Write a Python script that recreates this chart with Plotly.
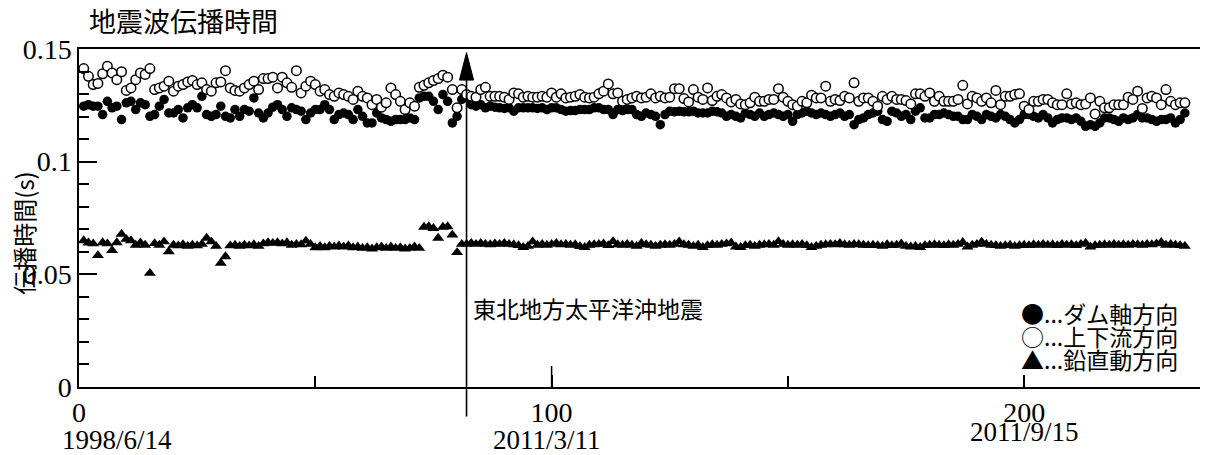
import plotly.graph_objects as go

# ---------------- data ----------------
sample_no = list(range(1, 235))

dam_axis = [  # ● ダム軸方向
    0.1246,0.1253,0.1246,0.1246,0.1209,0.1268,0.1239,0.1246,0.1187,0.1261,
    0.1268,0.1231,0.1261,0.1253,0.1201,0.1209,0.1246,0.1276,0.1216,0.1216,
    0.1231,0.1194,0.1239,0.1253,0.1239,0.1290,0.1209,0.1201,0.1209,0.1246,
    0.1201,0.1194,0.1231,0.1201,0.1231,0.1224,0.1283,0.1216,0.1194,
    0.1216,0.1242,0.1253,0.1231,0.1201,0.1239,0.1231,0.1224,0.1187,0.1216,
    0.1231,0.1231,0.1253,0.1231,0.1187,0.1209,0.1216,0.1209,0.1187,0.1231,
    0.1201,0.1172,0.1172,0.1216,0.1194,0.1187,0.1179,0.1187,0.1187,0.1187,
    0.1194,0.1187,0.1283,0.1290,0.1290,0.1268,0.1231,0.1298,
    0.1268,0.1172,0.1201,0.1276,0.1286,0.1253,0.1246,0.1253,0.1239,0.1246,
    0.1242,0.1239,0.1236,0.1239,0.1224,0.1239,0.1239,0.1239,0.1239,0.1236,
    0.1239,0.1231,0.1239,0.1239,0.1231,0.1224,0.1227,0.1227,0.1231,0.1231,
    0.1231,0.1239,0.1239,0.1231,0.1231,0.1209,0.1231,0.1227,0.1231,0.1231,
    0.1209,0.1201,0.1216,0.1209,0.1201,0.1164,0.1209,0.1224,0.1221,0.1224,
    0.1221,0.1221,0.1224,0.1216,0.1216,0.1216,0.1224,0.1221,0.1216,0.1201,
    0.1209,0.1201,0.1194,0.1216,0.1209,0.1201,0.1216,0.1201,0.1209,0.1216,
    0.1209,0.1201,0.1209,0.1179,0.1209,0.1216,0.1224,0.1216,0.1209,
    0.1216,0.1209,0.1201,0.1209,0.1216,0.1201,0.1209,0.1164,0.1187,0.1194,
    0.1209,0.1216,0.1224,0.1187,0.1179,0.1224,0.1216,0.1201,0.1209,0.1187,
    0.1224,0.1239,0.1194,0.1194,0.1209,0.1209,0.1216,0.1209,0.1201,0.1201,
    0.1187,0.1187,0.1209,0.1201,0.1187,0.1209,0.1201,0.1194,0.1209,0.1201,
    0.1187,0.1172,0.1187,0.1209,0.1209,0.1201,0.1194,0.1209,0.1194,0.1172,
    0.1187,0.1194,0.1194,0.1187,0.1194,0.1179,0.1157,0.1164,0.1157,0.1172,
    0.1194,0.1194,0.1187,0.1179,0.1194,0.1187,0.1194,0.1209,0.1194,0.1194,
    0.1187,0.1179,0.1187,0.1187,0.1194,0.1172,0.1187,0.1216,
]

up_down = [  # ○ 上下流方向
    0.1413,0.1379,0.1342,0.1347,0.1390,0.1424,0.1394,0.1364,0.1399,0.1316,
    0.1327,0.1364,0.1394,0.1387,0.1413,0.1320,0.1327,0.1335,0.1357,0.1313,
    0.1335,0.1342,0.1354,0.1360,0.1342,0.1350,0.1320,0.1313,0.1350,0.1354,
    0.1404,0.1327,0.1316,0.1313,0.1327,0.1342,0.1357,0.1320,0.1369,
    0.1369,0.1375,0.1327,0.1375,0.1350,0.1330,0.1404,0.1305,0.1335,0.1357,
    0.1342,0.1313,0.1320,0.1298,0.1290,0.1305,0.1298,0.1290,0.1276,0.1313,
    0.1290,0.1283,0.1253,0.1276,0.1242,0.1261,0.1327,0.1298,0.1268,0.1231,
    0.1261,0.1246,0.1330,0.1339,0.1350,0.1360,0.1369,0.1384,0.1375,
    0.1320,0.1239,0.1320,0.1298,0.1290,0.1286,0.1320,0.1330,0.1290,0.1290,
    0.1290,0.1286,0.1276,0.1305,0.1301,0.1286,0.1290,0.1286,0.1286,0.1290,
    0.1286,0.1305,0.1286,0.1301,0.1283,0.1286,0.1290,0.1298,0.1286,0.1283,
    0.1286,0.1301,0.1313,0.1345,0.1301,0.1305,0.1268,0.1276,0.1283,
    0.1290,0.1283,0.1286,0.1301,0.1283,0.1290,0.1283,0.1286,0.1324,0.1324,
    0.1280,0.1265,0.1320,0.1286,0.1276,0.1327,0.1271,0.1290,0.1298,0.1283,
    0.1265,0.1276,0.1256,0.1253,0.1261,0.1286,0.1268,0.1268,0.1276,0.1276,
    0.1324,0.1286,0.1268,0.1253,0.1246,0.1268,0.1261,0.1295,0.1283,
    0.1283,0.1335,0.1268,0.1276,0.1271,0.1290,0.1283,0.1350,0.1268,0.1283,
    0.1283,0.1268,0.1246,0.1290,0.1276,0.1290,0.1276,0.1276,0.1271,0.1256,
    0.1301,0.1301,0.1290,0.1305,0.1268,0.1290,0.1268,0.1268,0.1268,0.1276,
    0.1339,0.1256,0.1290,0.1283,0.1268,0.1283,0.1261,0.1316,0.1253,0.1290,
    0.1290,0.1298,0.1301,0.1246,0.1231,0.1268,0.1268,0.1276,0.1276,0.1261,
    0.1253,0.1253,0.1301,0.1256,0.1261,0.1253,0.1256,0.1283,0.1212,0.1268,
    0.1239,0.1239,0.1253,0.1253,0.1253,0.1286,0.1276,0.1313,0.1236,0.1283,
    0.1290,0.1283,0.1253,0.1320,0.1268,0.1253,0.1261,0.1261,
]

vertical = [  # ▲ 鉛直動方向
    0.0650,0.0640,0.0636,0.0584,0.0641,0.0636,0.0606,0.0641,0.0678,0.0656,
    0.0650,0.0630,0.0640,0.0630,0.0505,0.0637,0.0630,0.0645,0.0601,0.0630,
    0.0627,0.0632,0.0625,0.0630,0.0627,0.0634,0.0661,0.0645,0.0625,0.0550,
    0.0579,0.0627,0.0630,0.0625,0.0630,0.0627,0.0632,0.0625,0.0636,0.0641,
    0.0638,0.0641,0.0636,0.0641,0.0630,0.0634,0.0632,0.0648,0.0634,0.0619,
    0.0625,0.0619,0.0625,0.0622,0.0627,0.0622,0.0627,0.0619,0.0622,0.0616,
    0.0619,0.0613,0.0619,0.0622,0.0616,0.0622,0.0616,0.0619,0.0613,0.0616,
    0.0622,0.0616,0.0710,0.0712,0.0704,0.0661,0.0710,0.0712,0.0675,0.0597,
    0.0634,
    0.0634,0.0638,0.0634,0.0638,0.0634,0.0632,0.0636,0.0634,0.0638,0.0634,
    0.0632,0.0628,0.0620,0.0625,0.0645,0.0630,0.0634,0.0630,0.0634,0.0638,
    0.0632,0.0634,0.0630,0.0632,0.0624,0.0620,0.0630,0.0632,0.0634,0.0636,
    0.0628,0.0646,0.0632,0.0630,0.0634,0.0630,0.0625,0.0638,0.0632,0.0630,
    0.0625,0.0630,0.0632,0.0630,0.0634,0.0645,0.0632,0.0630,0.0625,0.0630,
    0.0620,0.0628,0.0632,0.0630,0.0634,0.0636,0.0640,0.0622,0.0620,0.0628,
    0.0630,0.0625,0.0630,0.0632,0.0634,0.0630,0.0646,0.0634,0.0630,0.0632,
    0.0630,0.0634,0.0628,0.0620,0.0625,0.0630,0.0632,0.0634,0.0632,0.0638,
    0.0632,0.0630,0.0634,0.0632,0.0630,0.0628,0.0630,0.0628,0.0625,0.0632,
    0.0628,0.0630,0.0636,0.0625,0.0622,0.0625,0.0620,0.0628,0.0630,0.0632,
    0.0630,0.0628,0.0632,0.0630,0.0634,0.0642,0.0622,0.0630,0.0634,0.0644,
    0.0634,0.0630,0.0628,0.0625,0.0628,0.0630,0.0625,0.0628,0.0630,0.0628,
    0.0632,0.0630,0.0634,0.0630,0.0632,0.0628,0.0634,0.0630,0.0632,0.0628,
    0.0634,0.0638,0.0622,0.0628,0.0630,0.0632,0.0630,0.0634,0.0630,0.0632,
    0.0630,0.0634,0.0632,0.0630,0.0634,0.0632,0.0636,0.0642,0.0630,0.0634,
    0.0630,0.0628,0.0625,
]

x_tick_vals = [0, 100, 200]
x_tick_text = ["0", "100", "200"]
y_tick_vals = [0, 0.05, 0.1, 0.15]
y_tick_text = ["0", "0.05", "0.1", "0.15"]

date_x = [8, 99, 200]
date_text = ["1998/6/14", "2011/3/11", "2011/9/15"]

quake_x = 82
quake_label = "東北地方太平洋沖地震"

title_text = "地震波伝播時間"
y_title = "伝播時間(s)"
legend_lines = ["●...ダム軸方向", "○...上下流方向", "▲...鉛直動方向"]

# ---------------- figure ----------------
SERIF = "Liberation Serif, Times New Roman, serif"
JP = "Noto Sans CJK JP, sans-serif"

fig = go.Figure()
fig.add_trace(go.Scatter(
    x=sample_no, y=dam_axis, mode="markers", name="ダム軸方向",
    marker=dict(symbol="circle", size=9.5, color="black"),
    cliponaxis=False))
fig.add_trace(go.Scatter(
    x=sample_no, y=up_down, mode="markers", name="上下流方向",
    marker=dict(symbol="circle", size=9.5, color="white",
                line=dict(color="black", width=1.5)),
    cliponaxis=False))
fig.add_trace(go.Scatter(
    x=sample_no, y=vertical, mode="markers", name="鉛直動方向",
    marker=dict(symbol="triangle-up", size=10.5, color="black"),
    cliponaxis=False))

# the page body has an 8px margin, so the figure is sized to fit the window
W, H = 1203, 447
ML, MR, MT, MB = 71, 11, 41, 68
XMAX = 237.2

fig.update_layout(
    width=W, height=H,
    margin=dict(l=ML, r=MR, t=MT, b=MB),
    paper_bgcolor="white", plot_bgcolor="white",
    showlegend=False,
    xaxis=dict(
        range=[0, XMAX], showgrid=False, zeroline=False,
        showline=True, linecolor="black", linewidth=1.5, mirror=True,
        ticks="inside", ticklen=12, tickwidth=1.5, tickcolor="black",
        tickvals=x_tick_vals, ticktext=x_tick_text,
        minor=dict(ticks="inside", tickvals=[50, 150], ticklen=11,
                   tickwidth=1.5, tickcolor="black"),
        tickfont=dict(family=SERIF, size=28, color="black"),
    ),
    yaxis=dict(
        range=[0, 0.15], showgrid=False, zeroline=False,
        showline=True, linecolor="black", linewidth=1.5,
        ticks="inside", ticklen=18, tickwidth=1.5, tickcolor="black",
        tickvals=y_tick_vals, ticktext=y_tick_text,
        minor=dict(ticks="inside", dtick=0.01, ticklen=10,
                   tickwidth=1.5, tickcolor="black"),
        tickfont=dict(family=SERIF, size=28, color="black"),
    ),
)

# the tick at 100 is drawn longer than the others in the original
fig.add_shape(type="line", xref="x", yref="paper", x0=100, x1=100,
              y0=0, y1=21 / 338, line=dict(color="black", width=1.5))

# earthquake marker line (extends below the axis) and label
fig.add_annotation(x=quake_x, y=0.138, xref="x", yref="y",
                   ax=quake_x, ay=-0.0138, axref="x", ayref="y",
                   text="", showarrow=True, arrowhead=0,
                   arrowwidth=1.6, arrowcolor="black")
head_w = 1.5   # half width of arrow head in x units
fig.add_shape(type="path", xref="x", yref="y",
              path=f"M {quake_x-head_w},0.1362 L {quake_x},0.1484 L {quake_x+head_w},0.1362 Z",
              fillcolor="black", line=dict(color="black", width=1))
fig.add_annotation(x=quake_x, y=0.2337, xref="x", yref="paper",
                   text=quake_label, showarrow=False, xanchor="left",
                   yanchor="middle", xshift=4,
                   font=dict(family=JP, size=23, color="black"))

# date labels under the tick numbers
for dx, dt, dy in zip(date_x, date_text, [-0.157, -0.157, -0.133]):
    fig.add_annotation(x=dx, y=dy, xref="x", yref="paper", text=dt,
                       showarrow=False, xanchor="center", yanchor="middle",
                       font=dict(family=SERIF, size=27, color="black"))

# title
fig.add_annotation(x=0.007, y=1.084, xref="paper", yref="paper",
                   text=title_text, showarrow=False, xanchor="left",
                   yanchor="middle",
                   font=dict(family=JP, size=27, color="black"))

# y axis title (rotated)
fig.add_annotation(x=-0.0495, y=0.455, xref="paper", yref="paper",
                   text=y_title, textangle=-90, showarrow=False,
                   xanchor="center", yanchor="middle",
                   font=dict(family=JP, size=24, color="black"))

# legend text block
for i, line in enumerate(legend_lines):
    fig.add_annotation(x=0.982, y=0.219 - i * 0.068, xref="paper", yref="paper",
                       text=line, showarrow=False, xanchor="right",
                       yanchor="middle",
                       font=dict(family=JP, size=23, color="black"))

fig.write_html("out.html")
